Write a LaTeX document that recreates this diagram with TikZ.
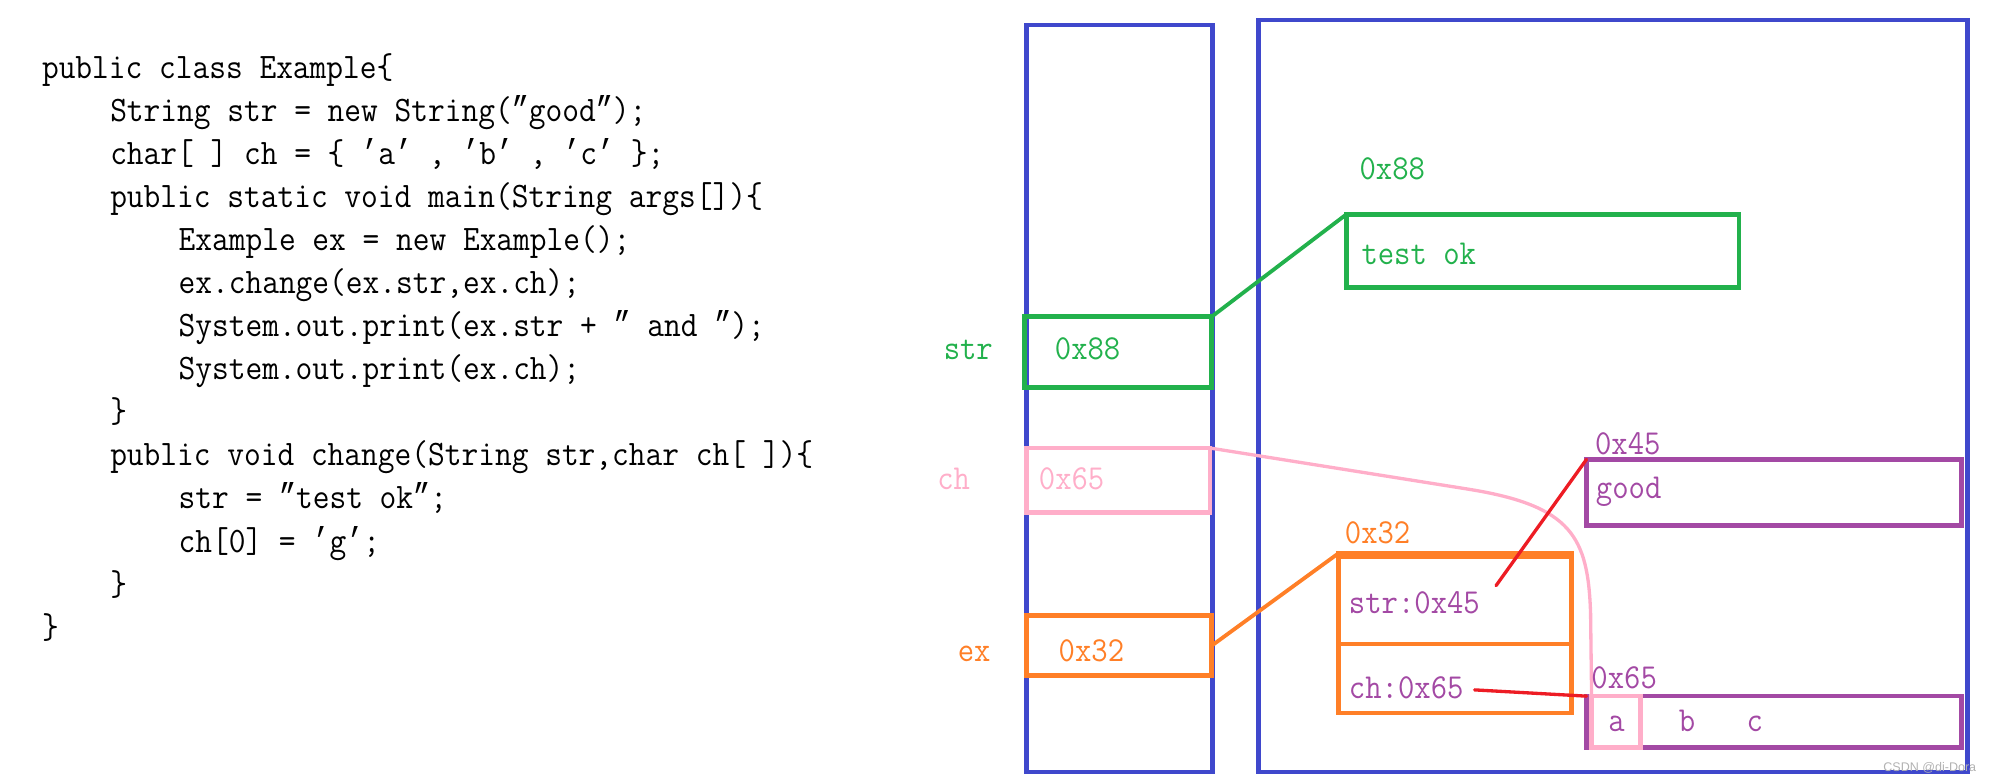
\documentclass[tikz,border=0pt]{standalone}
\usepackage{fontspec}
\usetikzlibrary{calc}
\newfontfamily\codefont[FakeStretch=0.906]{Latin Modern Mono}
\newfontfamily\qfont[FakeStretch=0.793]{Liberation Mono}
\newfontfamily\wmfont{Liberation Sans}
\newcommand\cdq{{\qfont ”}}
\newcommand\csq{{\qfont ’}}
\definecolor{pblue}{HTML}{3F48CC}
\definecolor{pgreen}{HTML}{22B14C}
\definecolor{porange}{HTML}{FF7F27}
\definecolor{ppink}{HTML}{FFAEC9}
\definecolor{ppurple}{HTML}{A349A4}
\definecolor{pred}{HTML}{ED1C24}
\tikzset{
  codeline/.style={anchor=base west, inner sep=0pt, font=\codefont\fontsize{28.07}{30}\selectfont},
  lbl/.style={anchor=base west, inner sep=0pt, font=\codefont\fontsize{27.44}{30}\selectfont},
  cell/.style={anchor=base, inner sep=0pt, font=\codefont\fontsize{27.44}{30}\selectfont, text=ppurple},
  box/.style={draw, line width=3.65pt, outer sep=0pt, inner sep=0pt},
  conn/.style={line width=3pt},
  thin conn/.style={line width=2.6pt}
}
\begin{document}
\begin{tikzpicture}[x=1pt,y=-1pt]
\useasboundingbox (0,0) rectangle (1560,613);
% code
\node[codeline] (c0)  at (32.7,61.4)  {public class Example\{};
\node[codeline] (c1)  at (86.1,95.1)  {String str = new String(\cdq good\cdq);};
\node[codeline] (c2)  at (86.1,128.8) {char[ ] ch = \{ \csq a\csq{} , \csq b\csq{} , \csq c\csq{} \};};
\node[codeline] (c3)  at (86.1,162.5) {public static void main(String args[])\{};
\node[codeline] (c4)  at (139.6,196.2) {Example ex = new Example();};
\node[codeline] (c5)  at (139.6,229.9) {ex.change(ex.str,ex.ch);};
\node[codeline] (c6)  at (139.6,263.6) {System.out.print(ex.str + \cdq{} and \cdq);};
\node[codeline] (c7)  at (139.6,297.3) {System.out.print(ex.ch);};
\node[codeline] (c8)  at (86.1,331.0) {\}};
\node[codeline] (c9)  at (86.1,364.7) {public void change(String str,char ch[ ])\{};
\node[codeline] (c10) at (139.6,398.4) {str = \cdq test ok\cdq;};
\node[codeline] (c11) at (139.6,432.1) {ch[0] = \csq g\csq;};
\node[codeline] (c12) at (86.1,465.8) {\}};
\node[codeline] (c13) at (32.7,499.5) {\}};
% containers
\node[box, pblue, minimum width=145.6pt, minimum height=584.7pt] (stack) at (876.4,311.95) {};
\node[box, pblue, minimum width=555.1pt, minimum height=588.6pt] (heap) at (1262.45,310) {};
% stack cells
\node[box, pgreen, minimum width=146.6pt, minimum height=55.5pt] (strcell) at (875.1,275.65) {};
\node[box, ppink, minimum width=143.5pt, minimum height=50.3pt] (chcell) at (875.35,375.85) {};
\node[box, porange, minimum width=144.8pt, minimum height=47pt] (excell) at (876,505.4) {};
% heap objects
\node[box, pgreen, minimum width=307.5pt, minimum height=57.1pt] (testok) at (1207.45,196.45) {};
\node[box, ppurple, minimum width=293.4pt, minimum height=51.6pt] (good) at (1388.5,385.4) {};
\node[box, porange, minimum width=182.7pt, minimum height=124.9pt] (obj) at (1138.85,495.65) {};
\draw[porange, line width=6.5pt] ($(obj.north west)+(-1.8,1.4)$) -- ($(obj.north east)+(1.8,1.4)$);
\coordinate (dl) at (1047.5,504);
\coordinate (dr) at (1230.2,504);
\draw[porange, line width=3.65pt] (dl) -- (dr);
\node[box, ppurple, minimum width=293.4pt, minimum height=40.2pt] (arr) at (1388.5,565) {};
% connectors
\draw[pgreen, conn] (strcell.north east) -- (testok.north west);
\draw[porange, conn] (excell.east) -- (obj.north west);
\node[box, ppink, minimum width=38.2pt, minimum height=40.2pt] (acell) at (1264.9,565) {};
\draw[ppink, thin conn] (chcell.north east) -- (1150,383) .. controls (1230,396) and (1243,420) .. (1245,480) -- (acell.north west);
\coordinate (r1) at (1171,458.4);
\coordinate (r2) at (1154.2,540);
\draw[pred, thin conn, line cap=round] (r1) -- (good.north west);
\draw[pred, thin conn, line cap=round] (r2) -- (arr.north west);
% labels
\node[lbl, text=pgreen] (lstr) at (738.5,281.5) {str};
\node[lbl, text=pgreen] (vstr) at (825.5,281.5) {0x88};
\node[lbl, text=ppink] (lch) at (733.5,383) {ch};
\node[lbl, text=ppink] (vch) at (813,383) {0x65};
\node[lbl, text=porange] (lex) at (749.5,517.4) {ex};
\node[lbl, text=porange] (vex) at (828.5,517.4) {0x32};
\node[lbl, text=pgreen] (addr88) at (1064,140.4) {0x88};
\node[lbl, text=pgreen] (ttestok) at (1065.5,207.4) {test ok};
\node[lbl, text=ppurple] (addr45) at (1248.3,356.1) {0x45};
\node[lbl, text=ppurple] (tgood) at (1249,390) {good};
\node[lbl, text=porange] (addr32) at (1052.5,425.8) {0x32};
\node[lbl, text=ppurple] (tstr) at (1055.7,480) {str:0x45};
\node[lbl, text=ppurple] (tch) at (1055.7,546.6) {ch:0x65};
\node[lbl, text=ppurple] (addr65) at (1245.5,538.8) {0x65};
\node[cell] (ca) at (1265.4,572.2) {a};
\node[cell] (cb) at (1320.5,572.2) {b};
\node[cell] (cc) at (1373.6,572.2) {c};
\node[anchor=base east, inner sep=0pt, text=gray!60, font=\wmfont\fontsize{9.8}{11}\selectfont] (wm) at (1547,604) {CSDN @di-Dora};
\end{tikzpicture}
\end{document}
